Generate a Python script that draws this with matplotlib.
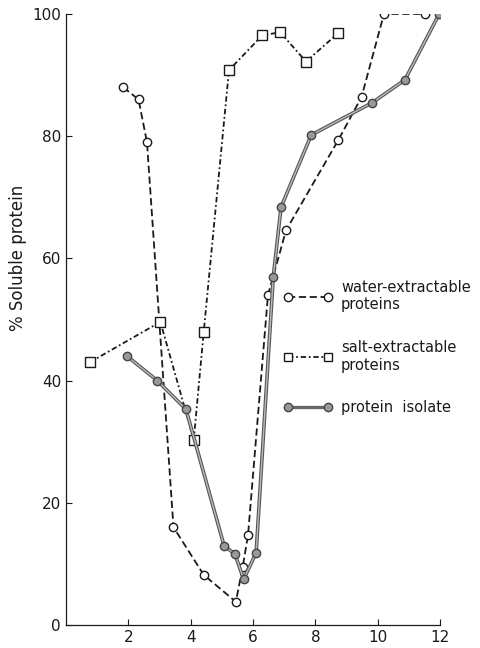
import numpy as np
import matplotlib.pyplot as plt
from matplotlib.lines import Line2D

# data (pH vs % soluble protein)
water_x = [1.84, 2.33, 2.6, 3.45, 4.42, 5.45, 5.67, 5.84, 6.48, 7.06, 8.74, 9.48, 10.2, 11.5]
water_y = [88, 86, 79, 16, 8.2, 3.8, 9.5, 14.7, 54, 64.6, 79.4, 86.4, 100, 100]

salt_x = [0.77, 3.03, 4.1, 4.42, 5.23, 6.3, 6.87, 7.7, 8.74]
salt_y = [43, 49.6, 30.3, 48, 90.8, 96.5, 97, 92.2, 96.9]

iso_x = [1.96, 2.93, 3.85, 5.07, 5.42, 5.7, 6.1, 6.65, 6.9, 7.87, 9.8, 10.87, 11.97]
iso_y = [44, 40, 35.3, 13, 11.6, 7.5, 11.8, 57, 68.4, 80.2, 85.4, 89.2, 100]

xticks = [2, 4, 6, 8, 10, 12]
yticks = [0, 20, 40, 60, 80, 100]

plt.rcParams['font.family'] = ['DejaVu Sans']
fig = plt.figure(figsize=(4.81, 6.48), dpi=100)
ax = fig.add_axes([0.137, 0.0355, 0.778, 0.943])

ink = '#1a1a1a'
ax.plot(water_x, water_y, color=ink, ls=(0, (4, 2)), lw=1.3,
        marker='o', ms=6, mfc='white', mec=ink, mew=1.0)
ax.plot(salt_x, salt_y, color=ink, ls=(0, (3, 1.5, 1, 1.5)), lw=1.3,
        marker='s', ms=7, mfc='white', mec=ink, mew=1.0)
ax.plot(iso_x, iso_y, color='#555555', ls='-', lw=2.6, zorder=2)
ax.plot(iso_x, iso_y, color='#bbbbbb', ls='-', lw=1.0, zorder=2.1,
        marker='o', ms=6, mfc='#999999', mec='#444444', mew=1.0)

ax.set_xlim(0, 12)
ax.set_ylim(0, 100)
ax.set_xticks(xticks)
ax.set_yticks(yticks)
ax.tick_params(direction='in', length=4, width=0.8, labelsize=11, colors=ink)
for s in ['top', 'right']:
    ax.spines[s].set_visible(False)
for s in ['left', 'bottom']:
    ax.spines[s].set_linewidth(0.9)
    ax.spines[s].set_color(ink)

ax.set_ylabel('% Soluble protein', fontsize=12, color=ink)
ax.yaxis.set_label_coords(-0.104, 0.60)

handles = [
    Line2D([], [], color=ink, ls=(0, (4, 2)), lw=1.3, marker='o', ms=6,
           mfc='white', mec=ink),
    Line2D([], [], color=ink, ls=(0, (3, 1.5, 1, 1.5)), lw=1.3, marker='s',
           ms=6, mfc='white', mec=ink),
    Line2D([], [], color='#666666', lw=2.4, marker='o', ms=6,
           mfc='#999999', mec='#444444'),
]
labels = ['water-extractable\nproteins', 'salt-extractable\nproteins', 'protein  isolate']
ax.legend(handles, labels, loc='upper left', bbox_to_anchor=(0.548, 0.586),
          frameon=False, numpoints=2, handlelength=3.3, fontsize=10.5,
          labelspacing=1.9, handletextpad=0.6, labelcolor=ink)

fig.savefig('out.png', dpi=100)
